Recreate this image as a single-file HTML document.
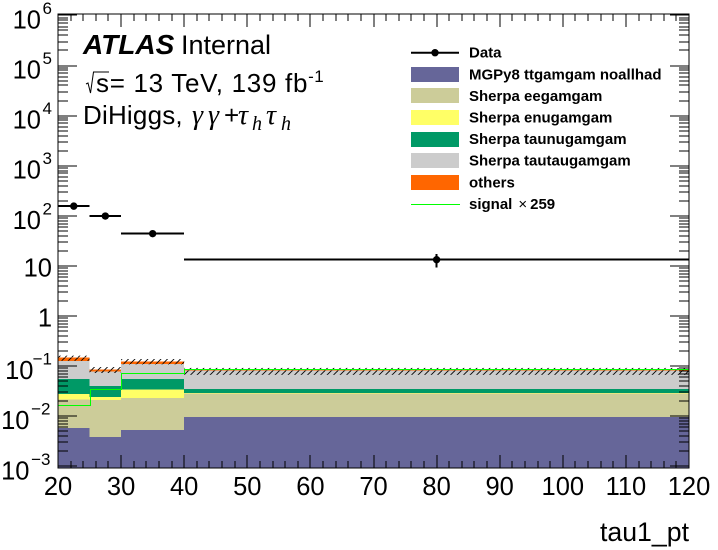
<!DOCTYPE html>
<html>
<head>
<meta charset="utf-8">
<style>
html,body{margin:0;padding:0;background:#fff;width:718px;height:550px;overflow:hidden}
svg{display:block}
text{font-family:"Liberation Sans",sans-serif;fill:#000}
</style>
</head>
<body>
<svg id="chart" xmlns="http://www.w3.org/2000/svg" width="718" height="550" viewBox="0 0 718 550">
<defs>
<pattern id="hatch" patternUnits="userSpaceOnUse" width="6.5" height="6.5">
<path d="M-1,7.5 L7.5,-1" stroke="#000" stroke-width="0.9" fill="none"/>
</pattern>
</defs>
<g id="stack"></g>
<g id="band"></g>
<g id="signal"></g>
<g id="data"></g>
<g id="axes"></g>
<g id="legend"></g>
<g>
<text x="83" y="54" font-size="28" font-weight="bold" font-style="italic">ATLAS</text>
<text x="181" y="54" font-size="27">Internal</text>
<path d="M86,84 L88,83 L90.5,93 L93.5,72 L109,72" fill="none" stroke="#000" stroke-width="1"/>
<text x="96" y="92" font-size="26" letter-spacing="0.7">s= 13 TeV, 139 fb<tspan dy="-10" font-size="17" letter-spacing="0.5">-1</tspan></text>
<text x="83" y="124" font-size="26" letter-spacing="0.2">DiHiggs,</text>
<text y="124" font-size="28" style="font-family:'Liberation Serif',serif" font-style="italic"><tspan x="192">γ</tspan><tspan x="208">γ</tspan><tspan x="224" style="font-family:'Liberation Sans',sans-serif" font-style="normal" font-size="26">+</tspan><tspan x="238">τ</tspan><tspan x="252" dy="6" font-size="20">h</tspan><tspan x="266" dy="-6">τ</tspan><tspan x="281" dy="6" font-size="20">h</tspan></text>
</g>
<text x="689" y="541" font-size="26.7" text-anchor="end">tau1_pt</text>
</svg>
<script>
var binEdges = [20, 25, 30, 40, 120];
var dataValues = [156, 99, 44, 13.3];
var dataErrors = [6, 4.5, 2.1, 4];
var mgpy8Ttgamgam = [0.0058, 0.00385, 0.0053, 0.0096];
var sherpaEegamgam = [0.0159, 0.01715, 0.0178, 0.0185];
var sherpaEnugamgam = [0.0060, 0.0032, 0.0113, 0.0009];
var sherpaTaunugamgam = [0.0276, 0.0159, 0.0209, 0.0059];
var sherpaTautaugamgam = [0.0711, 0.0386, 0.0547, 0.0460];
var others = [0.0206, 0.0060, 0.0125, 0.0027];
var signalValues = [0.0167, 0.0344, 0.0718, 0.0863];
var uncertaintyUp = [0.10, 0.13, 0.13, 0.10];
var uncertaintyDown = [0.13, 0.14, 0.12, 0.20];
var xTickLabels = [20, 30, 40, 50, 60, 70, 80, 90, 100, 110, 120];
var yTickExponents = [-3, -2, -1, 0, 1, 2, 3, 4, 5, 6];
var legendLabels = ["Data", "MGPy8 ttgamgam noallhad", "Sherpa eegamgam", "Sherpa enugamgam", "Sherpa taunugamgam", "Sherpa tautaugamgam", "others", "signal"];
var signalScale = 259;

var NS = "http://www.w3.org/2000/svg";
var L = 58, R = 689, T = 14, B = 468;
var Y0 = 316, DEC = 50.1;
function X(v) { return L + (v - 20) * (R - L) / 100; }
function Y(v) { return Y0 - DEC * Math.log10(v); }
function mk(parent, tag, attrs) {
  var e = document.createElementNS(NS, tag);
  for (var k in attrs) e.setAttribute(k, attrs[k]);
  parent.appendChild(e);
  return e;
}

var layers = [
  { name: "mgpy8", vals: mgpy8Ttgamgam, color: "#666699" },
  { name: "eegamgam", vals: sherpaEegamgam, color: "#cccc99" },
  { name: "enugamgam", vals: sherpaEnugamgam, color: "#ffff66" },
  { name: "taunugamgam", vals: sherpaTaunugamgam, color: "#009966" },
  { name: "tautaugamgam", vals: sherpaTautaugamgam, color: "#cccccc" },
  { name: "others", vals: others, color: "#ff6600" }
];

var stackG = document.getElementById("stack");
var totals = [0, 0, 0, 0];
layers.forEach(function (layer) {
  layer.vals.forEach(function (v, i) {
    var lo = totals[i];
    var hi = lo + v;
    totals[i] = hi;
    var yBottom = lo > 0 ? Y(lo) : B;
    var r = mk(stackG, "rect", { x: X(binEdges[i]), y: Y(hi), width: X(binEdges[i + 1]) - X(binEdges[i]), height: Math.max(0, yBottom - Y(hi)), fill: layer.color, "shape-rendering": "crispEdges" });
    
    
  });
});

var bandG = document.getElementById("band");
totals.forEach(function (t, i) {
  var top = Y(t * (1 + uncertaintyUp[i]));
  var bot = Y(t * (1 - uncertaintyDown[i]));
  var r = mk(bandG, "rect", { x: X(binEdges[i]), y: top, width: X(binEdges[i + 1]) - X(binEdges[i]), height: bot - top, fill: "url(#hatch)" });
  
  
});

function snap(v) { return Math.round(v) + 0.5; }
var sigG = document.getElementById("signal");
var d = "M" + snap(L) + "," + snap(Y(signalValues[0]));
signalValues.forEach(function (v, i) {
  d += " L" + snap(X(binEdges[i])) + "," + snap(Y(v)) + " L" + snap(X(binEdges[i + 1])) + "," + snap(Y(v));
});
var sigPath = mk(sigG, "path", { d: d, fill: "none", stroke: "#00ff00", "stroke-width": 1 });



var dataG = document.getElementById("data");
dataValues.forEach(function (v, i) {
  var cx = (binEdges[i] + binEdges[i + 1]) / 2;
  var h = mk(dataG, "line", { x1: X(binEdges[i]), x2: X(binEdges[i + 1]), y1: Y(v), y2: Y(v), stroke: "#000", "stroke-width": 2, "shape-rendering": "crispEdges" });
  
  
  var e = mk(dataG, "line", { x1: X(cx), x2: X(cx), y1: Y(v + dataErrors[i]), y2: Y(v - dataErrors[i]), stroke: "#000", "stroke-width": 2, "shape-rendering": "crispEdges" });
  
  
  var c = mk(dataG, "circle", { cx: X(cx), cy: Y(v), r: 3.7, fill: "#000" });
  
  
});

var axG = document.getElementById("axes");
function tick(x1, y1, x2, y2) {
  var t = mk(axG, "line", { x1: x1, y1: y1, x2: x2, y2: y2, stroke: "#000", "stroke-width": 1, "shape-rendering": "crispEdges" });
  
  
}
var frame = mk(axG, "rect", { x: L, y: T, width: R - L, height: B - T, fill: "none", stroke: "#000", "stroke-width": 1, "shape-rendering": "crispEdges" });



for (var xv = 20; xv <= 120; xv += 2) {
  var major = (xv % 10 === 0);
  var len = major ? 13 : 7;
  var xp = Math.round(X(xv));
  tick(xp, B, xp, B - len);
  tick(xp, T, xp, T + len);
}
xTickLabels.forEach(function (v) {
  var t = mk(axG, "text", { x: X(v), y: 495, "font-size": 25.5, "text-anchor": "middle" });
  t.textContent = String(v);
  
  
});

yTickExponents.forEach(function (p) {
  for (var m = 1; m <= 9; m++) {
    var yp = Y(m * Math.pow(10, p));
    if (yp < T || yp > B) continue;
    yp = Math.round(yp);
    var len = m === 1 ? 19 : 10;
    tick(L, yp, L + len, yp);
    tick(R, yp, R - len, yp);
  }
  var yT = Y(Math.pow(10, p));
  if (p === 0 || p === 1) {
    var t0 = mk(axG, "text", { x: 52, y: yT + 10.7, "font-size": 25.5, "text-anchor": "end" });
    t0.textContent = p === 0 ? "1" : "10";
    
    
  } else {
    var expTxt = p < 0 ? "\u2212" + (-p) : String(p);
    var expEnd = (p === -2 || p === -3) ? 50.5 : 52;
    var baseEnd = p === -1 ? 33.5 : (p < 0 ? 29.5 : 41);
    var t1 = mk(axG, "text", { x: baseEnd, y: yT + 13, "font-size": 25.5, "text-anchor": "end" });
    t1.textContent = "10";
    
    
    var t2 = mk(axG, "text", { x: expEnd, y: yT - 1.5, "font-size": 17, "text-anchor": "end" });
    t2.textContent = expTxt;
    
    
  }
});

var legG = document.getElementById("legend");
var legendRowY = function (i) { return 52.7 + i * 21.6; };
legendLabels.forEach(function (label, i) {
  var cy = legendRowY(i);
  if (i === 0) {
    var l = mk(legG, "line", { x1: 411, x2: 459, y1: cy, y2: cy, stroke: "#000", "stroke-width": 2 });
    
    
    var c = mk(legG, "circle", { cx: 435, cy: cy, r: 3.7, fill: "#000" });
    
    
  } else if (i === legendLabels.length - 1) {
    var s = mk(legG, "line", { x1: 411, x2: 460, y1: Math.round(cy) + 0.5, y2: Math.round(cy) + 0.5, stroke: "#00ff00", "stroke-width": 1 });
    
    
  } else {
    var sw = mk(legG, "rect", { x: 411, y: Math.round(cy - 7.5), width: 48, height: 15, fill: layers[i - 1].color });
    
    
  }
  var t = mk(legG, "text", { x: 469, y: cy + 5, "font-size": 15, "font-weight": "bold" });
  t.textContent = label;
  
  
  if (i === legendLabels.length - 1) {
    var mult = mk(t, "tspan", { dx: 6, "font-weight": "normal" });
    mult.textContent = "\u00d7";
    var num = mk(t, "tspan", { dx: 3 });
    num.textContent = String(signalScale);
  }
});
</script>
</body>
</html>
